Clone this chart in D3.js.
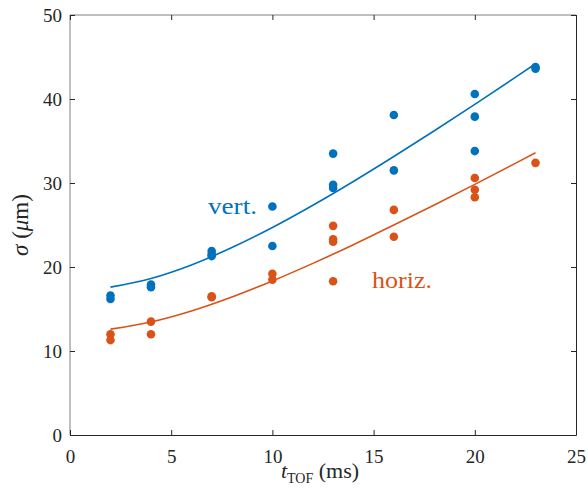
<!DOCTYPE html>
<html><head><meta charset="utf-8">
<script src="https://cdn.jsdelivr.net/npm/d3@7"></script>
<style>body{margin:0;background:#fff}</style>
</head><body>
<script>
// Measured points
const tVert = [2,2,4,4,7,7,7,10,10,13,13,13,16,16,20,20,20,23,23];
const sVert = [16.6,16.2,17.9,17.6,21.9,21.5,21.3,22.5,27.2,33.5,29.8,29.4,38.1,31.5,40.6,37.9,33.8,43.8,43.6];
const tHoriz = [2,2,4,4,7,7,10,10,13,13,13,13,16,16,20,20,20,23];
const sHoriz = [12.0,11.3,13.5,12.0,16.5,16.4,19.2,18.5,24.9,23.3,23.0,18.3,26.8,23.6,30.6,29.2,28.3,32.4];
// Fit curves
const tFit = [2,4,6,8,10,12,14,16,18,20,22,23];
const fitVert = [17.6,18.64,20.25,22.31,24.7,27.35,30.18,33.15,36.22,39.36,42.57,44.2];
const fitHoriz = [12.6,13.45,14.76,16.42,18.34,20.43,22.66,24.99,27.39,29.84,32.34,33.6];
const xTicks = [0,5,10,15,20,25];
const yTicks = [0,10,20,30,40,50];

const W=588,H=494;
const m={l:70,r:576,t:15,b:435};
const blue="#0072BD", orange="#D95319", axc="#262626";
const svg=d3.select("body").append("svg").attr("width",W).attr("height",H);
const x=d3.scaleLinear().domain([0,25]).range([m.l,m.r]);
const y=d3.scaleLinear().domain([0,50]).range([m.b,m.t]);
const font="Times New Roman";

// Axes frame
svg.append("line").attr("x1",m.l).attr("x2",m.l).attr("y1",m.t).attr("y2",m.b).attr("stroke","#808080");
svg.append("line").attr("x1",m.l).attr("x2",m.r).attr("y1",m.t).attr("y2",m.t).attr("stroke","#808080");
svg.append("line").attr("x1",m.l).attr("x2",m.r+0.5).attr("y1",m.b+0.5).attr("y2",m.b+0.5).attr("stroke",axc);
svg.append("line").attr("x1",m.r+0.5).attr("x2",m.r+0.5).attr("y1",m.t).attr("y2",m.b+0.5).attr("stroke",axc);

// Axes
const gx=svg.append("g").attr("transform",`translate(0,${m.b})`)
  .call(d3.axisBottom(x).tickValues(xTicks).tickSize(-5).tickPadding(14.5).tickFormat(d3.format("d")));
const gxt=svg.append("g").attr("transform",`translate(0,${m.t})`)
  .call(d3.axisTop(x).tickValues(xTicks).tickSize(-5).tickFormat(""));
const gy=svg.append("g").attr("transform",`translate(${m.l},0)`)
  .call(d3.axisLeft(y).tickValues(yTicks).tickSize(-5).tickPadding(8).tickFormat(d3.format("d")));
const gyr=svg.append("g").attr("transform",`translate(${m.r},0)`)
  .call(d3.axisRight(y).tickValues(yTicks).tickSize(-5).tickFormat(""));
[gx,gxt,gy,gyr].forEach(g=>{
  g.attr("font-family",null).attr("font-size",null);
  g.select(".domain").remove();
  g.selectAll("line").attr("stroke",axc);
  g.selectAll("text").attr("fill",axc).style("font-family",font).style("font-size","19px");
});

// Fit lines
const line=d3.line().x((d,i)=>x(tFit[i])).y(d=>y(d)).curve(d3.curveMonotoneX);
svg.append("path").attr("d",line(fitVert)).attr("fill","none").attr("stroke",blue).attr("stroke-width",1.6);
svg.append("path").attr("d",line(fitHoriz)).attr("fill","none").attr("stroke",orange).attr("stroke-width",1.6);

// Points
svg.append("g").selectAll("circle").data(sVert).join("circle")
  .attr("cx",(d,i)=>x(tVert[i])).attr("cy",d=>y(d)).attr("r",4.3).attr("fill",blue);
svg.append("g").selectAll("circle").data(sHoriz).join("circle")
  .attr("cx",(d,i)=>x(tHoriz[i])).attr("cy",d=>y(d)).attr("r",4.3).attr("fill",orange);

// Labels
svg.append("text").attr("x",208).attr("y",214).attr("fill",blue)
  .style("font-family",font).style("font-size","23px")
  .attr("textLength",49).attr("lengthAdjust","spacingAndGlyphs").text("vert.");
svg.append("text").attr("x",372).attr("y",288).attr("fill",orange)
  .style("font-family",font).style("font-size","23px")
  .attr("textLength",60).attr("lengthAdjust","spacingAndGlyphs").text("horiz.");

// X label
const xl=svg.append("text").attr("x",320).attr("y",478).attr("text-anchor","middle")
  .attr("fill",axc).style("font-family",font).style("font-size","22px");
xl.append("tspan").style("font-style","italic").text("t");
xl.append("tspan").attr("dy",5).style("font-size","14px").text("TOF");
xl.append("tspan").attr("dy",-5).text(" (ms)");

// Y label
const yl=svg.append("text").attr("transform",`translate(28,225) rotate(-90)`).attr("text-anchor","middle")
  .attr("fill",axc).style("font-family",font).style("font-size","23px");
yl.append("tspan").style("font-style","italic").text("σ");
yl.append("tspan").text(" (");
yl.append("tspan").style("font-style","italic").text("μ");
yl.append("tspan").text("m)");
</script>
</body></html>
